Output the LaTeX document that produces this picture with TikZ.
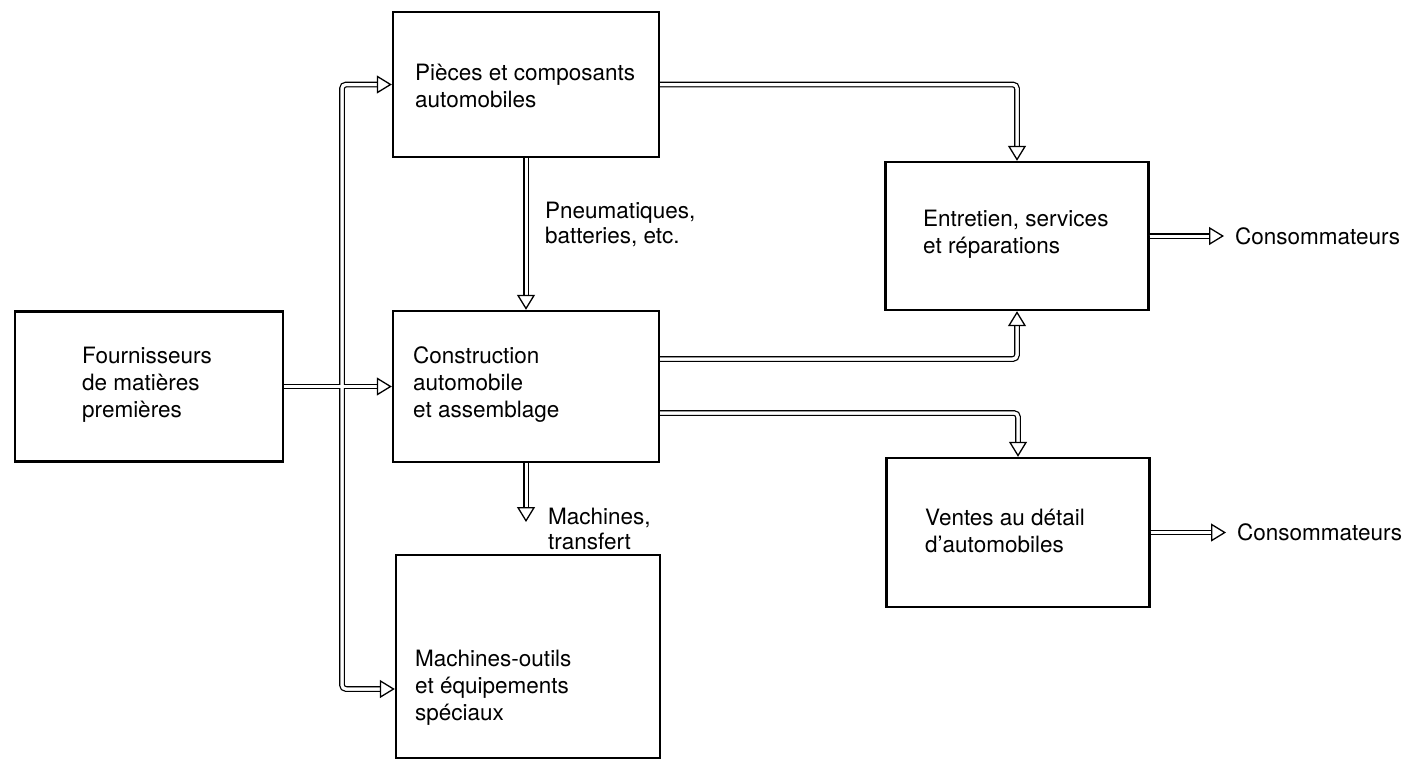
\documentclass[tikz,border=0pt]{standalone}
\usepackage{fontspec}
\setmainfont{TeX Gyre Heros}
\usetikzlibrary{arrows.meta}

% every connector of the chart, drawn with the style given as argument
\newcommand\allwires[1]{%
  \draw[#1] (four.east) -- (cons.west);
  \draw[#1] (j) |- (pieces.west);
  \draw[#1] (j) |- (mach.west |- 0,689);
  \draw[#1] (pieces.south) -- (cons.north);
  \draw[#1] (cons.south) -- (machend);
  \draw[#1] (pieces.east) -| (ent.north);
  \draw[#1] (cons.east |- 0,359) -| (ent.south);
  \draw[#1] (cons.east |- 0,413) -| (ventes.north);
  \draw[#1] (ent.east) -- (conso1.west);
  \draw[#1] (ventes.east) -- (conso2.west);
}

\begin{document}
\begin{tikzpicture}[x=1pt,y=-1pt,
  box/.style={draw=black, line width=2.4pt, inner sep=0pt},
  txt/.style={anchor=west, align=left, inner sep=0pt, font=\fontsize{22.5}{27}\selectfont},
  note/.style={anchor=west, align=left, inner sep=0pt, font=\fontsize{22.5}{25}\selectfont},
  sink/.style={anchor=west, inner xsep=11pt, inner ysep=0pt, font=\fontsize{22.5}{27}\selectfont},
  wire/.style={draw=black, double=white, double distance=3pt, line width=1.4pt,
    rounded corners=4pt, shorten >=9pt},
  wiretip/.style={draw=white, line width=3pt, rounded corners=4pt,
    -{Triangle[length=15pt, width=18pt, color=black, fill=white, line width=1.3pt]}},
]
\useasboundingbox (0,0) rectangle (1412,761);

% boxes
\node[box, minimum width=268pt, minimum height=150pt] (four)   at (149,386.5) {};
\node[box, minimum width=266pt, minimum height=145pt] (pieces) at (526,84.5) {};
\node[box, minimum width=266pt, minimum height=151pt] (cons)   at (526,386.5) {};
\node[box, minimum width=264pt, minimum height=203pt] (mach)   at (528,656.5) {};
\node[box, minimum width=263pt, minimum height=148pt] (ent)    at (1017,236) {};
\node[box, minimum width=263pt, minimum height=149pt] (ventes) at (1018,532.5) {};

% box texts
\node[txt] (fourtxt)   at (82,385)  {Fournisseurs\\de matières\\premières};
\node[txt] (piecestxt) at (415,86)  {Pièces et composants\\automobiles};
\node[txt] (constxt)   at (413,385) {Construction\\automobile\\et assemblage};
\node[txt] (machtxt)   at (415,688) {Machines-outils\\et équipements\\spéciaux};
\node[txt] (enttxt)    at (923,234) {Entretien, services\\et réparations};
\node[txt] (ventestxt) at (925,531) {Ventes au détail\\d'automobiles};

% flow labels and end points
\node[note] (lab1) at (545,224) {Pneumatiques,\\batteries, etc.};
\node[note] (lab2) at (548,529) {Machines,\\transfert};
\node[sink] (conso1) at (1224,236)   {Consommateurs};
\node[sink] (conso2) at (1226,532.5) {Consommateurs};

% branching point of the supply line, and the end of the machinery flow
\coordinate (j) at (342,386.5);
\coordinate (machend) at (526,522);

% double-line connectors: outlines first, then white cores with arrow heads
\allwires{wire}
\allwires{wiretip}
\end{tikzpicture}
\end{document}
